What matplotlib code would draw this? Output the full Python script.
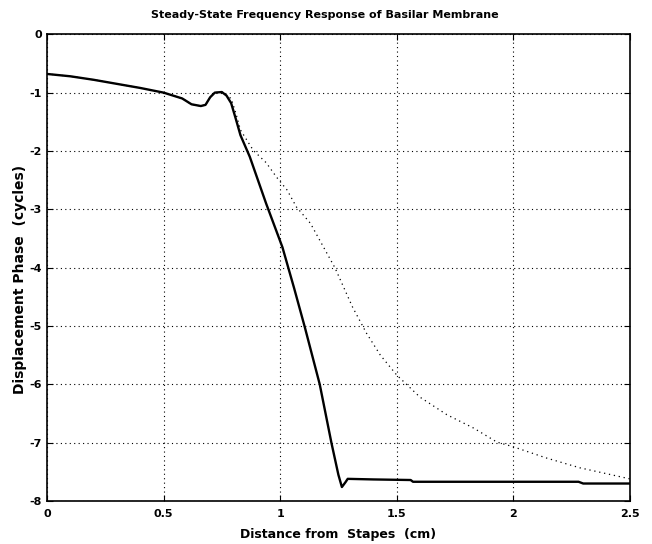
import matplotlib
matplotlib.use("Agg")
import matplotlib.pyplot as plt

plt.rcParams['font.family'] = ['DejaVu Sans']
plt.rcParams['axes.unicode_minus'] = False

title = "Steady-State Frequency Response of Basilar Membrane"
xlabel = "Distance from  Stapes  (cm)"
ylabel = "Displacement Phase  (cycles)"

x_solid = [0, 0.1, 0.2, 0.3, 0.4, 0.5, 0.58, 0.62, 0.66, 0.68, 0.7, 0.72, 0.75, 0.77,
           0.79, 0.81, 0.83, 0.87, 0.94, 1.01, 1.06, 1.106, 1.17, 1.22, 1.25, 1.265,
           1.28, 1.29, 1.4, 1.56, 1.57, 2.28, 2.3, 2.5]
y_solid = [-0.68, -0.72, -0.78, -0.85, -0.92, -1.0, -1.1, -1.2, -1.23, -1.21, -1.08,
           -1.0, -0.99, -1.05, -1.18, -1.45, -1.73, -2.1, -2.9, -3.65, -4.35, -5.02,
           -6.0, -7.0, -7.55, -7.76, -7.68, -7.62, -7.63, -7.64, -7.67, -7.67, -7.7, -7.7]

x_dot = [0, 0.1, 0.2, 0.3, 0.4, 0.5, 0.58, 0.62, 0.66, 0.68, 0.7, 0.72, 0.75, 0.77,
         0.79, 0.81, 0.83, 0.885, 0.94, 0.985, 1.03, 1.07, 1.13, 1.21, 1.235, 1.31,
         1.37, 1.43, 1.5, 1.6, 1.715, 1.83, 1.93, 2.0, 2.14, 2.285, 2.5]
y_dot = [-0.68, -0.72, -0.78, -0.85, -0.92, -1.0, -1.1, -1.2, -1.23, -1.21, -1.08,
         -1.0, -0.99, -1.05, -1.1, -1.35, -1.64, -1.99, -2.2, -2.45, -2.67, -2.96,
         -3.24, -3.82, -4.0, -4.67, -5.12, -5.5, -5.84, -6.22, -6.52, -6.75, -6.99,
         -7.07, -7.26, -7.43, -7.62]

xticks = [0, 0.5, 1, 1.5, 2, 2.5]
xticklabels = ["0", "0.5", "1", "1.5", "2", "2.5"]
yticks = [0, -1, -2, -3, -4, -5, -6, -7, -8]
yticklabels = ["0", "-1", "-2", "-3", "-4", "-5", "-6", "-7", "-8"]

fig = plt.figure(figsize=(6.52, 5.44), dpi=100)
ax = fig.add_axes([0.072, 0.079, 0.894, 0.858])

ax.plot(x_dot, y_dot, color='black', linewidth=0.9, linestyle=(0, (1, 3)))
ax.plot(x_solid, y_solid, color='black', linewidth=1.7)

ax.set_xlim(0, 2.5)
ax.set_ylim(-8, 0)
ax.set_xticks(xticks)
ax.set_xticklabels(xticklabels)
ax.set_yticks(yticks)
ax.set_yticklabels(yticklabels)
ax.grid(True, color='black', linestyle=(0, (1, 3)), linewidth=0.8)
ax.tick_params(direction='in', top=True, right=True, length=4, labelsize=8)
ax.tick_params(axis='x', pad=6)
for lbl in ax.get_xticklabels() + ax.get_yticklabels():
    lbl.set_fontweight('bold')
for s in ax.spines.values():
    s.set_linewidth(1.2)

ax.set_title(title, fontsize=8, fontweight='bold', pad=12, x=0.476)
ax.set_xlabel(xlabel, fontsize=9, fontweight='bold', labelpad=6)
ax.set_ylabel(ylabel, fontsize=10, fontweight='bold')
ax.yaxis.set_label_coords(-0.034, 0.475)

fig.savefig("out.png", dpi=100)
